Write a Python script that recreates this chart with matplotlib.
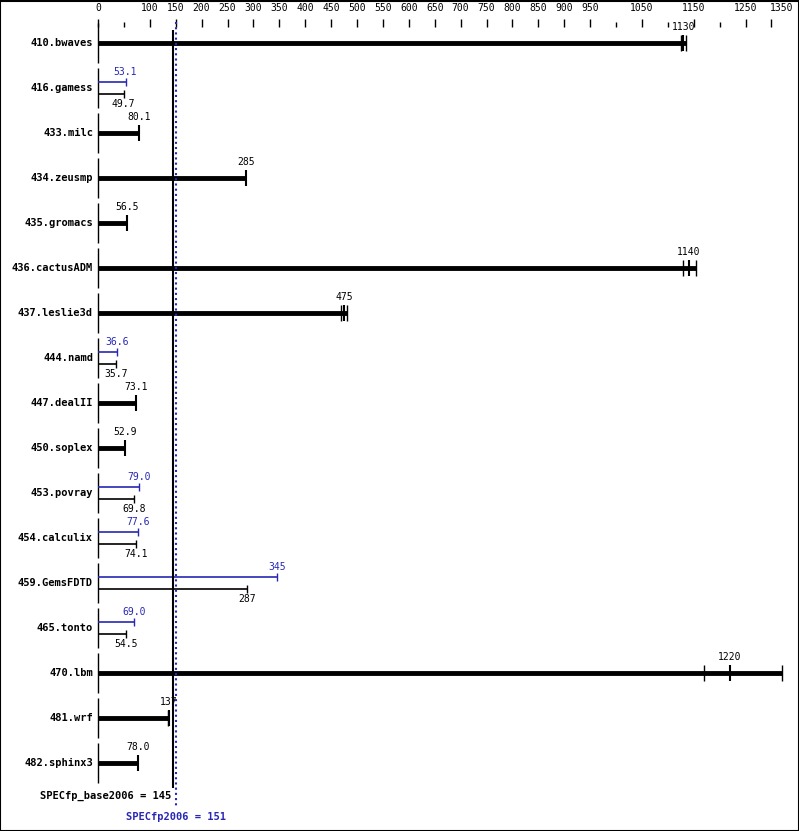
import matplotlib
matplotlib.use('Agg')
import matplotlib.pyplot as plt

names = ['410.bwaves', '416.gamess', '433.milc', '434.zeusmp', '435.gromacs',
         '436.cactusADM', '437.leslie3d', '444.namd', '447.dealII', '450.soplex',
         '453.povray', '454.calculix', '459.GemsFDTD', '465.tonto', '470.lbm',
         '481.wrf', '482.sphinx3']
base = [1130, 49.7, 80.1, 285, 56.5, 1140, 475, 35.7, 73.1, 52.9,
        69.8, 74.1, 287, 54.5, 1220, 137, 78.0]
peak = [None, 53.1, None, None, None, None, None, 36.6, None, None,
        79.0, 77.6, 345, 69.0, None, None, None]
labels_b = ['1130', '49.7', '80.1', '285', '56.5', '1140', '475', '35.7', '73.1', '52.9',
            '69.8', '74.1', '287', '54.5', '1220', '137', '78.0']
labels_p = [None, '53.1', None, None, None, None, None, '36.6', None, None,
            '79.0', '77.6', '345', '69.0', None, None, None]
# extra run ticks for single-bar rows
runs = {0: [1125, 1135], 5: [1130, 1155], 6: [470, 480], 14: [1170, 1320], 15: [135]}
base_score = 145
peak_score = 151

blue = '#2828b4'
k = 0.518
x0 = 98
W, H = 799, 831
fig = plt.figure(figsize=(W / 100, H / 100), dpi=100)
ax = fig.add_axes([0, 0, 1, 1])
ax.set_xlim(-x0 / k, (W - x0) / k)
ax.set_ylim(H, 0)
ax.axis('off')
ax.add_patch(plt.Rectangle((-x0 / k, 0.5), W / k, H - 1, fill=False, lw=1.5, ec='black'))
font = 'DejaVu Sans Mono'

# top axis
tick_vals = list(range(0, 1301, 50))
major = [0] + list(range(100, 951, 50)) + [1050, 1150, 1250]
for v in tick_vals:
    ax.vlines(v, 19 if (v in major or v == 1300) else 22, 27, color='black', lw=1)
for v in major:
    ax.text(v, 8, str(v), ha='center', va='center', fontsize=7, family=font)
ax.text(1320, 8, '1350', ha='center', va='center', fontsize=7, family=font)

for i, n in enumerate(names):
    y = 43 + 45 * i
    ax.vlines(0, y - 20, y + 20, color='black', lw=1)
    ax.text(-5 / k, y, n, ha='right', va='center', fontsize=7.5, family=font, weight='bold')
    if peak[i] is None:
        end = max([base[i]] + runs.get(i, []))
        ax.hlines(y, 0, end, color='black', lw=3.5)
        ax.vlines(base[i], y - 8, y + 8, color='black', lw=1.5)
        for r in runs.get(i, []):
            ax.vlines(r, y - 8, y + 8, color='black', lw=1)
        ax.text(base[i], y - 11, labels_b[i], ha='center', va='bottom', fontsize=7, family=font)
    else:
        yp, yb = y - 6, y + 6
        ax.hlines(yp, 0, peak[i], color=blue, lw=1.2)
        ax.vlines(peak[i], yp - 4, yp + 4, color=blue, lw=1)
        ax.text(peak[i], yp - 5, labels_p[i], ha='center', va='bottom', fontsize=7, family=font, color=blue)
        ax.hlines(yb, 0, base[i], color='black', lw=1.2)
        ax.vlines(base[i], yb - 4, yb + 4, color='black', lw=1)
        ax.text(base[i], yb + 5, labels_b[i], ha='center', va='top', fontsize=7, family=font)

ax.vlines(base_score, 30, 788, color='black', lw=1.5)
ax.vlines(peak_score, 22, 808, color=blue, lw=1.5, linestyles=(0, (1, 1.5)))
ax.text(base_score - 2 / k, 796, 'SPECfp_base2006 = %d' % base_score, ha='right', va='center',
        fontsize=7.5, family=font, weight='bold')
ax.text(peak_score, 817, 'SPECfp2006 = %d' % peak_score, ha='center', va='center',
        fontsize=7.5, family=font, weight='bold', color=blue)

fig.savefig('out.png', dpi=100)
